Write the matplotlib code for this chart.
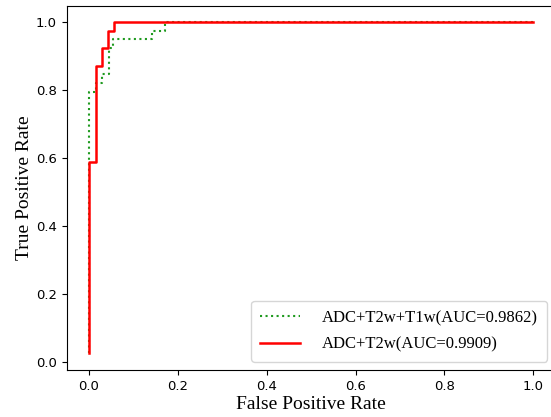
import matplotlib
matplotlib.use("Agg")
import matplotlib.pyplot as plt

# ROC curve data
fpr_t1w = [0.0, 0.0, 0.0147, 0.0147, 0.0294, 0.0294, 0.044, 0.044, 0.055, 0.055, 0.141, 0.141, 0.17, 0.17, 1.0]
tpr_t1w = [0.0256, 0.795, 0.795, 0.821, 0.821, 0.846, 0.846, 0.923, 0.923, 0.949, 0.949, 0.974, 0.974, 1.0, 1.0]

fpr_t2w = [0.0, 0.0, 0.015, 0.015, 0.0286, 0.0286, 0.0435, 0.0435, 0.057, 0.057, 1.0]
tpr_t2w = [0.0256, 0.590, 0.590, 0.872, 0.872, 0.923, 0.923, 0.974, 0.974, 1.0, 1.0]

label_t1w = "ADC+T2w+T1w(AUC=0.9862)"
label_t2w = "ADC+T2w(AUC=0.9909)"

fig = plt.figure(figsize=(5.51, 4.17), dpi=100)
ax = fig.add_axes([0.1212, 0.1127, 0.887, 0.874])

ax.plot(fpr_t1w, tpr_t1w, linestyle=":", color="#1f9a1f", linewidth=1.5, label=label_t1w)
ax.plot(fpr_t2w, tpr_t2w, linestyle="-", color="red", linewidth=1.8, label=label_t2w)

ax.set_xlim(-0.05, 1.05)
ax.set_xticks([0.0, 0.2, 0.4, 0.6, 0.8, 1.0])
ax.set_yticks([0.0, 0.2, 0.4, 0.6, 0.8, 1.0])
ax.tick_params(labelsize=9.5)
ax.spines["right"].set_visible(False)

serif = "Liberation Serif"
ax.set_xlabel("False Positive Rate", fontfamily=serif, fontsize=14, labelpad=2)
ax.set_ylabel("True Positive Rate", fontfamily=serif, fontsize=14, labelpad=2)

ax.legend(loc="lower right", prop={"family": serif, "size": 12}, handlelength=2.4,
          handletextpad=1.3, borderaxespad=0.5, labelspacing=0.62, borderpad=0.55)

fig.savefig("out.png", dpi=100)
